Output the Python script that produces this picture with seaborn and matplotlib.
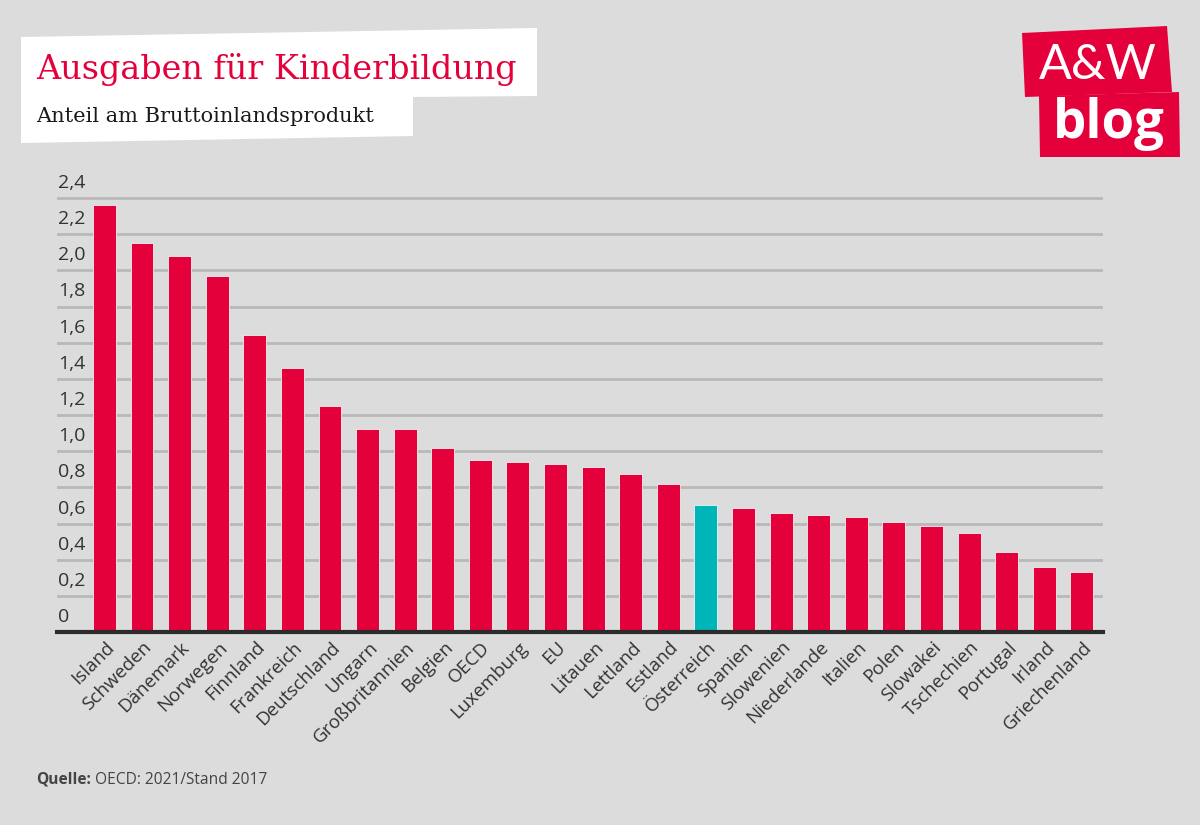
import matplotlib
matplotlib.use('Agg')

import matplotlib.pyplot as plt
import matplotlib.transforms as mtransforms
from matplotlib.patches import Polygon
import seaborn as sns
import pandas as pd

# data (share of GDP, %)
countries = ['Island', 'Schweden', 'Dänemark', 'Norwegen', 'Finnland', 'Frankreich',
             'Deutschland', 'Ungarn', 'Großbritannien', 'Belgien', 'OECD', 'Luxemburg',
             'EU', 'Litauen', 'Lettland', 'Estland', 'Österreich', 'Spanien', 'Slowenien',
             'Niederlande', 'Italien', 'Polen', 'Slowakei', 'Tschechien', 'Portugal',
             'Irland', 'Griechenland']
values = [2.36, 2.15, 2.08, 1.97, 1.64, 1.46, 1.25, 1.12, 1.12, 1.02, 0.95, 0.94,
          0.93, 0.915, 0.875, 0.82, 0.70, 0.685, 0.66, 0.645, 0.635, 0.61, 0.585,
          0.545, 0.445, 0.36, 0.33]
highlight = 'Österreich'
yticks = [0, 0.2, 0.4, 0.6, 0.8, 1.0, 1.2, 1.4, 1.6, 1.8, 2.0, 2.2, 2.4]
ytick_labels = ['0', '0,2', '0,4', '0,6', '0,8', '1,0', '1,2', '1,4', '1,6', '1,8', '2,0', '2,2', '2,4']

title = 'Ausgaben für Kinderbildung'
subtitle = 'Anteil am Bruttoinlandsprodukt'
source_bold = 'Quelle:'
source_text = ' OECD: 2021/Stand 2017'

RED = '#e4003a'
TEAL = '#00b5b8'
BG = '#dcdcdc'

W, H = 1200, 825


def px(x, y):
    # pixel coords (top-left origin) -> figure fraction
    return (x / W, 1 - y / H)


def main():
    sns.set_theme(style='white')
    plt.rcParams['font.family'] = ['Open Sans', 'DejaVu Sans']

    df = pd.DataFrame({'land': countries, 'wert': values})
    palette = {c: (TEAL if c == highlight else RED) for c in countries}

    fig = plt.figure(figsize=(W / 100, H / 100), dpi=100)
    fig.patch.set_facecolor(BG)

    ymax = 2.42
    ax_h = ymax * (632 - 198) / 2.4
    ax = fig.add_axes([57 / W, (H - 632) / H, (1103 - 57) / W, ax_h / H])
    ax.set_facecolor(BG)

    sns.barplot(data=df, x='land', y='wert', hue='land', palette=palette,
                legend=False, width=0.61, saturation=1, ax=ax,
                edgecolor='#f2f2f2', linewidth=0.6, zorder=3)

    ax.set_xlim(-1.26, 26.56)
    ax.set_ylim(0, ymax)
    ax.set_xlabel('')
    ax.set_ylabel('')

    # gridlines + left-aligned labels sitting above them
    ax.set_yticks(yticks)
    ax.set_yticklabels([])
    ax.tick_params(axis='y', length=0)
    for v in yticks[1:]:
        ax.axhline(v, color='#b9b9b9', lw=2, zorder=1)
    lab_tr = mtransforms.blended_transform_factory(ax.transAxes, ax.transData) + \
        mtransforms.ScaledTranslation(1 / 100, 6 / 100, fig.dpi_scale_trans)
    for v, s in zip(yticks, ytick_labels):
        ax.text(0, v, s, transform=lab_tr, ha='left', va='bottom',
                fontsize=14, color='#333333')

    for sp in ['top', 'right', 'left']:
        ax.spines[sp].set_visible(False)
    ax.spines['bottom'].set_color('#2b2b2b')
    ax.spines['bottom'].set_linewidth(3)
    ax.spines['bottom'].set_zorder(4)

    ax.tick_params(axis='x', length=0, pad=9)
    ax.set_xticks(range(len(countries)))
    ax.set_xticklabels(countries, rotation=45, ha='right', va='center',
                       rotation_mode='anchor', fontsize=13.5, color='#333333')
    off = mtransforms.ScaledTranslation(7 / 100, 0, fig.dpi_scale_trans)
    for lbl in ax.get_xticklabels():
        lbl.set_transform(lbl.get_transform() + off)

    # title block
    box = Polygon([px(21, 37), px(537, 28), px(537, 96), px(413, 97),
                   px(413, 136), px(21, 143)], closed=True,
                  transform=fig.transFigure, facecolor='white', edgecolor='none')
    fig.add_artist(box)
    fig.text(*px(36, 79), title, fontsize=24, color=RED,
             family=['DejaVu Serif'], ha='left', va='baseline')
    fig.text(*px(36, 122), subtitle, fontsize=15, color='#1a1a1a',
             family=['DejaVu Serif'], ha='left', va='baseline')

    # logo
    fig.add_artist(Polygon([px(1022, 33), px(1167, 26), px(1172, 92), px(1025, 97)],
                           closed=True, transform=fig.transFigure,
                           facecolor=RED, edgecolor='none'))
    fig.add_artist(Polygon([px(1039, 96), px(1179, 92), px(1180, 157), px(1040, 157)],
                           closed=True, transform=fig.transFigure,
                           facecolor=RED, edgecolor='none'))
    fig.text(*px(1098, 65), 'A&W', fontsize=35, color='white', ha='center',
             va='center', family=['Lato', 'DejaVu Sans'])
    fig.text(*px(1109, 124), 'blog', fontsize=38, color='white', ha='center',
             va='center', fontweight='bold', family=['Open Sans', 'DejaVu Sans'])

    # source line
    t1 = fig.text(*px(36, 784), source_bold, fontsize=11.2, fontweight='bold',
                  color='#444444', ha='left', va='baseline')
    ax.annotate(source_text, xy=(1, 0), xycoords=t1, va='bottom', ha='left',
                fontsize=11.2, color='#444444', annotation_clip=False)

    fig.savefig('out.png', dpi=100, facecolor=BG)


if __name__ == "__main__":
    main()
